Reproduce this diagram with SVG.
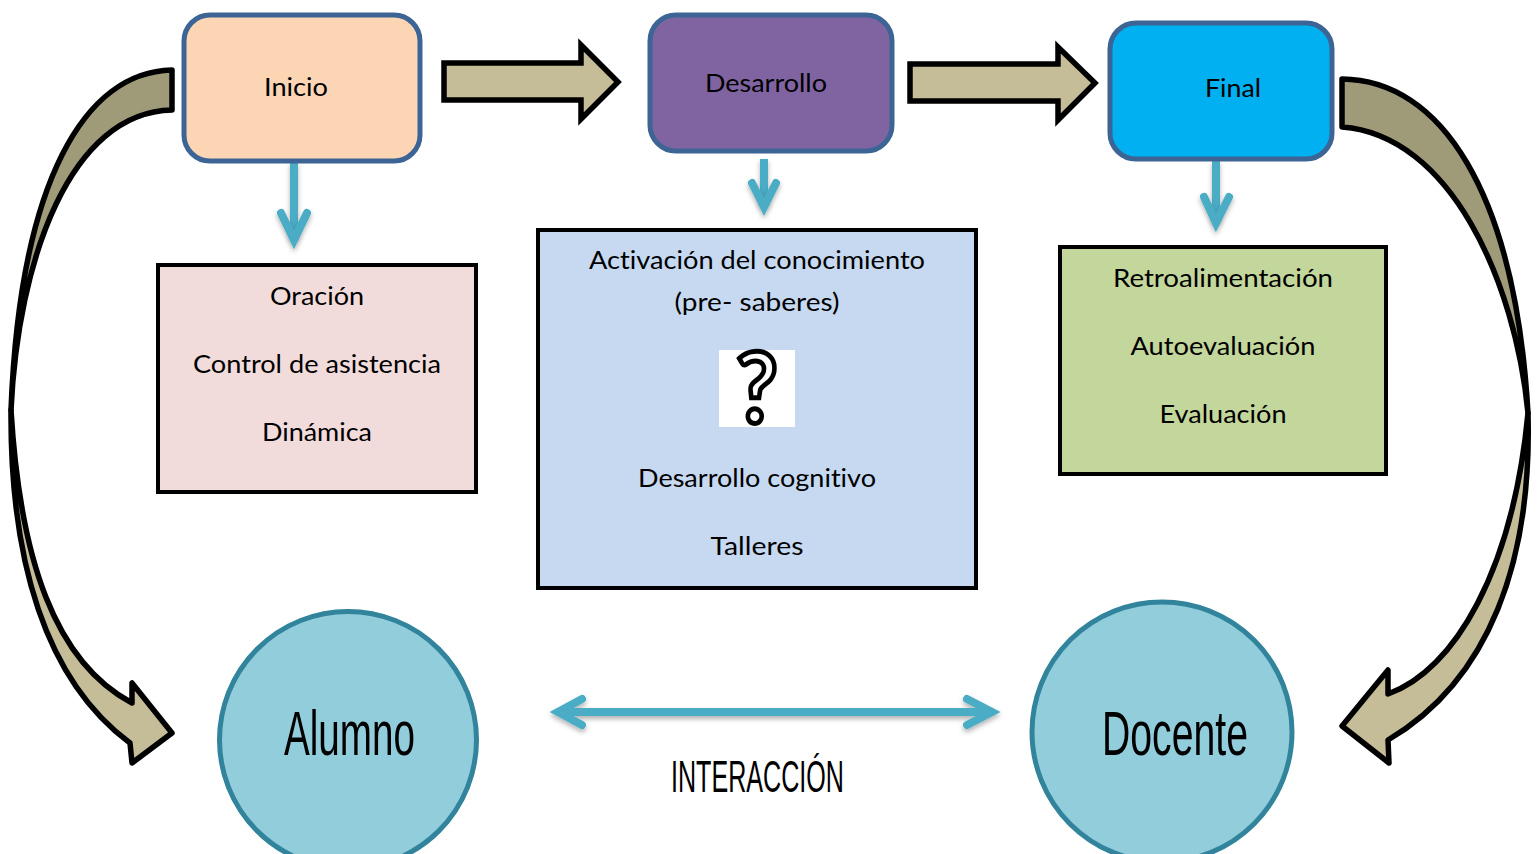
<svg xmlns="http://www.w3.org/2000/svg" width="1537" height="854" viewBox="0 0 1537 854">
<style>
text{font-family:Lato,"Liberation Sans",sans-serif;font-size:25.5px;fill:#000;text-anchor:middle;font-variant-ligatures:none}
.t{font-family:"Liberation Sans",sans-serif;font-size:63px;text-anchor:start}
.r{stroke:#3c6595;stroke-width:5}
.b{stroke:#000;stroke-width:4}
.c{fill:#92cddc;stroke:#31849b;stroke-width:5}
.a{fill:#c4bd97;stroke:#000;stroke-width:5.5;stroke-miterlimit:10}
.d{fill:#9f9a78;stroke:#000;stroke-width:5.5;stroke-linejoin:round}
.l{fill:#c4bd97;stroke:#000;stroke-width:5.5;stroke-linejoin:round}
.s{fill:none;stroke:#4bacc6;stroke-width:8;stroke-linecap:round;stroke-linejoin:miter;stroke-miterlimit:10;filter:url(#sh)}
.h{fill:none;stroke:#4bacc6;stroke-width:8;stroke-linecap:butt;filter:url(#sh)}
</style>
<defs><filter id="sh" filterUnits="userSpaceOnUse" x="0" y="0" width="1537" height="854"><feDropShadow dx="0" dy="3" stdDeviation="2.5" flood-color="#000" flood-opacity=".3"/></filter></defs>
<rect width="1537" height="854" fill="#fff"/>
<g id="connectors">
<path class="d" d="M172,70C85,72 20,180 11,410C18,260 70,112 172,110Z"/>
<path class="l" d="M11,410C10,560 45,680 130,743L132,763L172,733L132,683L132,703C55,662 20,560 11,410Z"/>
<path class="d" d="M1342,79C1440,80 1515,190 1528,413C1515,280 1450,135 1342,127Z"/>
<path class="l" d="M1528,413C1532,560 1490,680 1388,740L1389,763L1342,726L1388,670L1388,694C1455,670 1513,570 1528,413Z"/>
<path class="a" d="M444,63H581V45L618,82L581,119V100H444Z"/>
<path class="a" d="M910,64H1058V47L1095,83L1058,120V101H910Z"/>
<path class="h" d="M294,162V238"/>
<path class="s" d="M281,213L294,240L307,213"/>
<path class="h" d="M764,159V205"/>
<path class="s" d="M752,183L764,207L776,183"/>
<path class="h" d="M1216,161V221"/>
<path class="s" d="M1204,197L1216,223L1229,197"/>
<path class="s" d="M558,712H992M582,699L558,712L582,725M967,699L992,712L967,725"/>
</g>
<g id="inicio"><rect class="r" x="184" y="15" width="236" height="146" rx="26" fill="#fcd5b5"/><text x="296" y="96" textLength="64" lengthAdjust="spacingAndGlyphs">Inicio</text></g>
<g id="desarrollo"><rect class="r" x="650" y="15" width="242" height="136" rx="26" fill="#8064a2"/><text x="766" y="92" textLength="122" lengthAdjust="spacingAndGlyphs">Desarrollo</text></g>
<g id="final"><rect class="r" x="1110" y="23" width="222" height="136" rx="26" fill="#00b0f0"/><text x="1233" y="97" textLength="56" lengthAdjust="spacingAndGlyphs">Final</text></g>
<g id="inicio-detalle"><rect class="b" x="158" y="265" width="318" height="227" fill="#f2dcdb"/>
<text x="317" y="305" textLength="94" lengthAdjust="spacingAndGlyphs">Oración</text>
<text x="317" y="373" textLength="248" lengthAdjust="spacingAndGlyphs">Control de asistencia</text>
<text x="317" y="441" textLength="110" lengthAdjust="spacingAndGlyphs">Dinámica</text></g>
<g id="desarrollo-detalle"><rect class="b" x="538" y="230" width="438" height="358" fill="#c6d9f1"/>
<text x="757" y="269" textLength="336" lengthAdjust="spacingAndGlyphs">Activación del conocimiento</text>
<text x="757" y="311" textLength="165" lengthAdjust="spacingAndGlyphs">(pre- saberes)</text>
<rect x="719" y="350" width="76" height="77" fill="#fff"/>
<text x="757" y="423" style="font-size:98px;font-weight:700;fill:#fff;stroke:#000;stroke-width:5" textLength="42" lengthAdjust="spacingAndGlyphs">?</text>
<text x="757" y="487" textLength="238" lengthAdjust="spacingAndGlyphs">Desarrollo cognitivo</text>
<text x="757" y="555" textLength="93" lengthAdjust="spacingAndGlyphs">Talleres</text></g>
<g id="final-detalle"><rect class="b" x="1060" y="247" width="326" height="227" fill="#c3d69b"/>
<text x="1223" y="287" textLength="220" lengthAdjust="spacingAndGlyphs">Retroalimentación</text>
<text x="1223" y="355" textLength="185" lengthAdjust="spacingAndGlyphs">Autoevaluación</text>
<text x="1223" y="423" textLength="127" lengthAdjust="spacingAndGlyphs">Evaluación</text></g>
<g id="alumno"><circle class="c" cx="348" cy="740" r="128.5"/><text class="t" x="284" y="755" textLength="131" lengthAdjust="spacingAndGlyphs">Alumno</text></g>
<g id="docente"><circle class="c" cx="1162" cy="732" r="130"/><text class="t" x="1102" y="755" textLength="146" lengthAdjust="spacingAndGlyphs">Docente</text></g>
<g id="interaccion"><text class="t" style="font-size:44px" x="671" y="792" textLength="173" lengthAdjust="spacingAndGlyphs">INTERACCIÓN</text></g>
</svg>
